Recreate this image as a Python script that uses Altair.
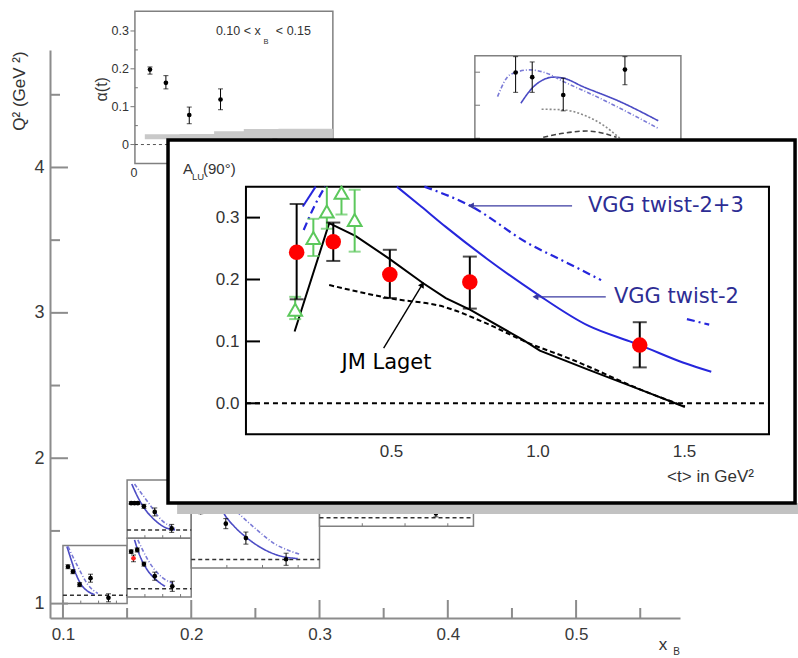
import altair as alt
import pandas as pd

FONT = "Liberation Sans"
ANN_FONT = "DejaVu Sans"

# ================= main inset: A_LU(90 deg) vs <t> =================
clas_t = [0.178, 0.303, 0.496, 0.769, 1.349]
clas_a = [0.244, 0.261, 0.208, 0.196, 0.094]
clas_lo = [0.168, 0.230, 0.170, 0.153, 0.058]
clas_hi = [0.322, 0.292, 0.248, 0.237, 0.131]

hermes_t = [0.173, 0.235, 0.281, 0.331, 0.376]
hermes_a = [0.151, 0.267, 0.310, 0.340, 0.296]
hermes_lo = [0.136, 0.238, 0.282, 0.305, 0.245]
hermes_hi = [0.172, 0.298, 0.362, 0.380, 0.345]

laget_t = [0.171, 0.289, 0.380, 0.496, 0.610, 0.687, 0.771, 0.952, 1.008, 1.175, 1.384, 1.503]
laget_a = [0.116, 0.291, 0.270, 0.233, 0.194, 0.170, 0.151, 0.102, 0.085, 0.054, 0.016, -0.006]

regge_t = [0.289, 0.492, 0.687, 0.826, 0.966, 1.105, 1.384, 1.503]
regge_a = [0.191, 0.170, 0.155, 0.129, 0.098, 0.073, 0.016, -0.005]

vgg2_seg = [0, 0, 1, 1, 1, 1, 1, 1, 1, 1, 1, 1]
vgg2_t = [0.199, 0.243, 0.520, 0.603, 0.687, 0.826, 0.994, 1.175, 1.315, 1.349, 1.496, 1.593]
vgg2_a = [0.318, 0.350, 0.350, 0.318, 0.285, 0.234, 0.178, 0.125, 0.100, 0.094, 0.066, 0.051]

vgg23_seg = [0, 0, 0, 1, 1, 1, 1, 1, 2, 2]
vgg23_t = [0.202, 0.238, 0.275, 0.614, 0.771, 0.966, 1.105, 1.217, 1.510, 1.586]
vgg23_a = [0.280, 0.318, 0.350, 0.350, 0.319, 0.259, 0.226, 0.199, 0.136, 0.127]

ann_text = ["VGG twist-2+3", "VGG twist-2", "JM Laget"]
ann_t = [1.172, 1.261, 0.331]
ann_a = [0.318, 0.172, 0.065]
ann_color = ["#2d2d94", "#2d2d94", "#000000"]

arrow_t0 = [1.118, 1.233, 0.475]
arrow_a0 = [0.319, 0.172, 0.089]
arrow_t1 = [0.773, 0.993, 0.607]
arrow_a1 = [0.319, 0.172, 0.192]
arrow_color = ["#3a3aa0", "#3a3aa0", "#000000"]
arrow_angle = [270, 270, 31]

in_ticks = [0.0, 0.1, 0.2, 0.3]

# inset geometry (in t / A units)
T_DOM = [0.005, 1.79]
A_DOM = [-0.05, 0.35]
box_t = [-0.261, 1.879]
box_a = [-0.161, 0.4254]
shadow_t = [-0.230, 1.889]
shadow_a = [-0.179, -0.161]

# ================= background: Q^2 vs x_B grid =================
xb_major = [0.1, 0.2, 0.3, 0.4, 0.5]
xb_minor = [0.15, 0.25, 0.35, 0.45, 0.55]
q2_major = [1, 2, 3, 4]
q2_minor = [1.5, 2.5, 3.5, 4.5]
XB_DOM = [0.0899, 0.581]
Q2_DOM = [0.901, 4.808]

# small panels: bin box in (x_B, Q^2) and local domain (-t, A)
panel_names = ["alpha", "tr", "A", "Bt", "Bb", "C", "D"]
panel_x0 = [0.1561, 0.4211, 0.10, 0.15, 0.15, 0.20, 0.30]
panel_x1 = [0.3104, 0.5817, 0.15, 0.20, 0.20, 0.30, 0.42]
panel_y0 = [4.0275, 3.860, 1.000, 1.450, 1.045, 1.245, 1.532]
panel_y1 = [5.0743, 4.769, 1.400, 1.850, 1.450, 1.765, 2.110]
panel_u1 = [2.0, 1.8, 1.8, 1.8, 1.8, 1.8, 1.8]
panel_v0 = [-0.05, -0.05, -0.05, -0.05, -0.05, -0.05, -0.05]
panel_v1 = [0.352, 0.35, 0.30, 0.30, 0.30, 0.40, 0.45]

# alpha(t) panel (0.10 < x_B < 0.15)
al_u = [0.152, 0.313, 0.549, 0.865, 1.414]
al_v = [0.198, 0.163, 0.078, 0.119, -0.003]
al_lo = [0.186, 0.147, 0.055, 0.092, -0.020]
al_hi = [0.205, 0.182, 0.099, 0.147, 0.014]
band_u = [0.10, 0.45, 0.80, 1.10, 1.45, 2.0]
band_top = [0.0275, 0.028, 0.035, 0.041, 0.042, 0.042]
band_bot = [0.014, 0.014, 0.014, 0.014, 0.014, 0.014]

# top-right panel
tr_u = [0.356, 0.501, 0.772, 1.311]
tr_v = [0.299, 0.285, 0.231, 0.308]
tr_lo = [0.239, 0.239, 0.183, 0.262]
tr_hi = [0.347, 0.331, 0.282, 0.347]
tr_vgg2_u = [0.402, 0.501, 0.597, 0.684, 0.772, 0.946, 1.267, 1.602]
tr_vgg2_v = [0.206, 0.252, 0.277, 0.285, 0.282, 0.256, 0.211, 0.153]
tr_vgg23_u = [0.198, 0.306, 0.481, 0.627, 0.772, 1.063, 1.602]
tr_vgg23_v = [0.226, 0.292, 0.307, 0.297, 0.272, 0.226, 0.130]
tr_gray_u = [0.583, 0.772, 0.946, 1.121, 1.267]
tr_gray_v = [0.188, 0.186, 0.171, 0.140, 0.100]
tr_bd_u = [0.597, 0.772, 0.976, 1.121, 1.238]
tr_bd_v = [0.103, 0.115, 0.122, 0.115, 0.103]

# panel A
A_u = [0.14, 0.28, 0.467, 0.774, 1.277]
A_v = [0.172, 0.142, 0.064, 0.103, -0.015]
A_e = [0.012, 0.012, 0.012, 0.024, 0.024]
A_vgg2_u = [0.112, 0.235, 0.375, 0.514, 0.699, 0.886]
A_vgg2_v = [0.294, 0.211, 0.123, 0.064, 0.024, 0.005]
A_vgg23_u = [0.14, 0.419, 0.699, 0.978]
A_vgg23_v = [0.294, 0.172, 0.064, 0.011]

# panel B (upper)
Bt_u = [0.114, 0.208, 0.301, 0.472, 0.776, 1.251]
Bt_v = [0.161, 0.161, 0.161, 0.142, 0.108, 0.009]
Bt_e = [0.008, 0.008, 0.008, 0.012, 0.024, 0.024]
Bt_vgg2_u = [0.131, 0.301, 0.492, 0.776, 1.061, 1.345]
Bt_vgg2_v = [0.276, 0.197, 0.128, 0.059, 0.015, 0.0]
Bt_vgg23_u = [0.208, 0.586, 0.967, 1.345]
Bt_vgg23_v = [0.276, 0.167, 0.059, 0.009]

# panel B (lower)
Bb_u = [0.114, 0.179, 0.284, 0.472, 0.776, 1.268]
Bb_v = [0.220, 0.180, 0.230, 0.146, 0.074, 0.014]
Bb_e = [0.010, 0.020, 0.012, 0.012, 0.024, 0.030]
Bb_col = ["black", "#ff2020", "black", "black", "black", "black"]
Bb_vgg2_u = [0.208, 0.350, 0.540, 0.776, 1.061]
Bb_vgg2_v = [0.290, 0.200, 0.120, 0.060, 0.014]
Bb_vgg23_u = [0.301, 0.586, 0.967, 1.297]
Bb_vgg23_v = [0.290, 0.170, 0.070, 0.031]

# panel C
C_u = [0.133, 0.273, 0.485, 0.767, 1.331]
C_v = [0.283, 0.317, 0.214, 0.128, 0.002]
C_e = [0.010, 0.010, 0.030, 0.036, 0.036]
C_vgg2_u = [0.39, 0.461, 0.602, 0.767, 0.978, 1.212, 1.494]
C_vgg2_v = [0.333, 0.273, 0.198, 0.134, 0.071, 0.026, 0.006]
C_vgg23_u = [0.555, 0.696, 0.930, 1.166, 1.401, 1.518]
C_vgg23_v = [0.323, 0.263, 0.174, 0.095, 0.049, 0.032]

# panel D
D_u = [0.195, 1.361]
D_v = [0.057, 0.026]
D_e = [0.012, 0.020]
D_vgg2_u = [1.40, 1.595]
D_vgg2_v = [0.069, 0.041]

# ================= helpers =================
def place(panel, u, v):
    i = panel_names.index(panel)
    X = [panel_x0[i] + uu / panel_u1[i] * (panel_x1[i] - panel_x0[i]) for uu in u]
    Y = [panel_y0[i] + (vv - panel_v0[i]) / (panel_v1[i] - panel_v0[i]) * (panel_y1[i] - panel_y0[i]) for vv in v]
    return X, Y

bgx = alt.Scale(domain=XB_DOM, nice=False, zero=False)
bgy = alt.Scale(domain=Q2_DOM, nice=False, zero=False)
bg_xaxis = alt.Axis(orient="bottom", values=xb_major, format=".1f", ticks=False, tickSize=0,
                    domainColor="#8c8c8c", domainWidth=2, labelFontSize=17, labelColor="#3a3a3a",
                    labelFont=FONT, labelPadding=8, grid=False, title=None, labelFlush=False)
bg_yaxis = alt.Axis(orient="left", values=q2_major, format="d", ticks=False, tickSize=0,
                    domainColor="#8c8c8c", domainWidth=2, labelFontSize=18, labelColor="#3a3a3a",
                    labelFont=FONT, labelPadding=6, grid=False, title=None, labelFlush=False)

def BX(f):
    return alt.X(f, type="quantitative", scale=bgx, axis=bg_xaxis)

def BY(f):
    return alt.Y(f, type="quantitative", scale=bgy, axis=bg_yaxis)

in_xs = alt.Scale(domain=T_DOM, range=[195.96, 718.97], nice=False, zero=False)
in_ys = alt.Scale(domain=A_DOM, range=[384.25, 136.65], nice=False, zero=False)
in_xaxis = alt.Axis(orient="bottom", offset=-183.75, values=[0.5, 1.0, 1.5], format=".1f",
                    domain=False, ticks=False, tickSize=0, labelPadding=9, labelFontSize=17,
                    labelColor="#333333", labelFont=FONT, grid=False, title=None, zindex=1)
in_yaxis = alt.Axis(orient="left", offset=-195.96, values=in_ticks, format=".1f",
                    domain=False, ticks=False, tickSize=0, labelPadding=7, labelFontSize=17,
                    labelColor="#333333", labelFont=FONT, grid=False, title=None, zindex=1)

def IX(f):
    return alt.X(f, type="quantitative", scale=in_xs, axis=in_xaxis)

def IY(f):
    return alt.Y(f, type="quantitative", scale=in_ys, axis=in_yaxis)

# ================= background tables =================
fr = pd.DataFrame({"x0": panel_x0, "x1": panel_x1, "y0": panel_y0, "y1": panel_y1})
zero_rows = []
for i, p in enumerate(panel_names):
    X, Y = place(p, [0, panel_u1[i]], [0, 0])
    zero_rows.append({"X0": X[0], "X1": X[1], "Y": Y[0], "alpha": p == "alpha"})
zr = pd.DataFrame(zero_rows)

curve_defs = [
    ("tr", "vgg2", tr_vgg2_u, tr_vgg2_v), ("tr", "vgg23", tr_vgg23_u, tr_vgg23_v),
    ("tr", "gray", tr_gray_u, tr_gray_v), ("tr", "bdash", tr_bd_u, tr_bd_v),
    ("A", "vgg2", A_vgg2_u, A_vgg2_v), ("A", "vgg23", A_vgg23_u, A_vgg23_v),
    ("Bt", "vgg2", Bt_vgg2_u, Bt_vgg2_v), ("Bt", "vgg23", Bt_vgg23_u, Bt_vgg23_v),
    ("Bb", "vgg2", Bb_vgg2_u, Bb_vgg2_v), ("Bb", "vgg23", Bb_vgg23_u, Bb_vgg23_v),
    ("C", "vgg2", C_vgg2_u, C_vgg2_v), ("C", "vgg23", C_vgg23_u, C_vgg23_v),
    ("D", "vgg2", D_vgg2_u, D_vgg2_v),
]
crow = []
for k, (p, st, u, v) in enumerate(curve_defs):
    X, Y = place(p, u, v)
    for j in range(len(u)):
        crow.append({"key": k, "style": st, "i": j, "X": X[j], "Y": Y[j]})
cr = pd.DataFrame(crow)

pt_defs = [
    ("alpha", al_u, al_v, al_lo, al_hi, ["black"] * 5),
    ("tr", tr_u, tr_v, tr_lo, tr_hi, ["black"] * 4),
    ("A", A_u, A_v, [a - e for a, e in zip(A_v, A_e)], [a + e for a, e in zip(A_v, A_e)], ["black"] * 5),
    ("Bt", Bt_u, Bt_v, [a - e for a, e in zip(Bt_v, Bt_e)], [a + e for a, e in zip(Bt_v, Bt_e)], ["black"] * 6),
    ("Bb", Bb_u, Bb_v, [a - e for a, e in zip(Bb_v, Bb_e)], [a + e for a, e in zip(Bb_v, Bb_e)], Bb_col),
    ("C", C_u, C_v, [a - e for a, e in zip(C_v, C_e)], [a + e for a, e in zip(C_v, C_e)], ["black"] * 5),
    ("D", D_u, D_v, [a - e for a, e in zip(D_v, D_e)], [a + e for a, e in zip(D_v, D_e)], ["black"] * 2),
]
prow = []
for p, u, v, lo, hi, col in pt_defs:
    X, Y = place(p, u, v)
    _, YL = place(p, u, lo)
    _, YH = place(p, u, hi)
    for j in range(len(u)):
        prow.append({"X": X[j], "Y": Y[j], "YL": YL[j], "YH": YH[j], "col": col[j]})
pr = pd.DataFrame(prow)
caps = pd.concat([pr[["X", "YL"]].rename(columns={"YL": "Yc"}), pr[["X", "YH"]].rename(columns={"YH": "Yc"})])

bX, bT = place("alpha", band_u, band_top)
_, bB = place("alpha", band_u, band_bot)
band = pd.DataFrame({"X": bX, "YT": bT, "YB": bB})

trow = []
for v in [0.0, 0.1, 0.2, 0.3]:
    X, Y = place("alpha", [-0.045, 0.0], [v, v])
    trow.append({"X0": X[0], "X1": X[1], "Y": Y[0]})
for v in [0.05, 0.15, 0.25]:
    X, Y = place("alpha", [0.0, 0.03], [v, v])
    trow.append({"X0": X[0], "X1": X[1], "Y": Y[0]})
for v in [0.1, 0.2, 0.3]:
    X, Y = place("tr", [0.0, 0.045], [v, v])
    trow.append({"X0": X[0], "X1": X[1], "Y": Y[0]})
ptk = pd.DataFrame(trow)
vrow = []
for p in ["A", "Bt", "Bb", "C", "D"]:
    for u in [0.5, 1.0, 1.5]:
        X, Y = place(p, [u, u], [-0.05, -0.032])
        vrow.append({"X": X[0], "Y0": Y[0], "Y1": Y[1]})
vtk = pd.DataFrame(vrow)

axrow = []
for xb in xb_major:
    axrow.append({"X0": xb, "X1": xb, "Y0": Q2_DOM[0], "Y1": Q2_DOM[0] + 0.124})
for xb in xb_minor:
    axrow.append({"X0": xb, "X1": xb, "Y0": Q2_DOM[0], "Y1": Q2_DOM[0] + 0.069})
for q in q2_major:
    axrow.append({"X0": XB_DOM[0], "X1": XB_DOM[0] + 0.014, "Y0": q, "Y1": q})
for q in q2_minor:
    axrow.append({"X0": XB_DOM[0], "X1": XB_DOM[0] + 0.0078, "Y0": q, "Y1": q})
axt = pd.DataFrame(axrow)

txt = []
for v, s in zip([0.3, 0.2, 0.1, 0.0], ["0.3", "0.2", "0.1", "0"]):
    X, Y = place("alpha", [-0.06], [v])
    txt.append({"X": X[0], "Y": Y[0], "text": s, "fs": 12.5, "ang": 0, "al": "right"})
X, Y = place("alpha", [-0.33], [0.146])
txt.append({"X": X[0], "Y": Y[0], "text": "\u03b1(t)", "fs": 16, "ang": 270, "al": "center"})
X, Y = place("alpha", [0.818, 1.30, 1.424], [0.300, 0.272, 0.300])
txt.append({"X": X[0], "Y": Y[0], "text": "0.10 < x", "fs": 12.5, "ang": 0, "al": "left"})
txt.append({"X": X[1], "Y": Y[1], "text": "B", "fs": 7.5, "ang": 0, "al": "left"})
txt.append({"X": X[2], "Y": Y[2], "text": "< 0.15", "fs": 12.5, "ang": 0, "al": "left"})
X, Y = place("alpha", [-0.01], [-0.074])
txt.append({"X": X[0], "Y": Y[0], "text": "0", "fs": 12.5, "ang": 0, "al": "center"})
txt.append({"X": 0.0665, "Y": 4.526, "text": "Q\u00b2 (GeV \u00b2)", "fs": 17, "ang": 270, "al": "center"})
txt.append({"X": 0.5677, "Y": 0.713, "text": "x", "fs": 17, "ang": 0, "al": "center"})
txt.append({"X": 0.5783, "Y": 0.667, "text": "B", "fs": 10, "ang": 0, "al": "center"})
tx = pd.DataFrame(txt)

# ================= background layers =================
styles = ["vgg2", "vgg23", "gray", "bdash"]
style_col = ["#4b4bc4", "#7a7ad6", "#8a8a8a", "#444444"]
style_dash = [[1, 0], [4, 2, 1, 2], [2, 2], [5, 3]]

bg_layers = [
    alt.Chart(fr).mark_rect(fill="white", stroke="#808080", strokeWidth=1.5).encode(
        x=BX("x0"), x2="x1", y=BY("y0"), y2="y1"),
    alt.Chart(band).mark_area(color="#c9c9c9", interpolate="step-after").encode(
        x=BX("X"), y=BY("YB"), y2="YT"),
    alt.Chart(zr[~zr["alpha"]]).mark_rule(color="#333333", strokeWidth=1.5, strokeDash=[4, 3]).encode(
        x=BX("X0"), x2="X1", y=BY("Y")),
    alt.Chart(zr[zr["alpha"]]).mark_rule(color="#555555", strokeWidth=1, strokeDash=[3, 3]).encode(
        x=BX("X0"), x2="X1", y=BY("Y")),
    alt.Chart(ptk).mark_rule(color="#777777", strokeWidth=1).encode(x=BX("X0"), x2="X1", y=BY("Y")),
    alt.Chart(vtk).mark_rule(color="#777777", strokeWidth=1).encode(x=BX("X"), y=BY("Y0"), y2="Y1"),
    alt.Chart(cr).mark_line(strokeWidth=1.6, interpolate="monotone").encode(
        x=BX("X"), y=BY("Y"), detail="key:N", order="i:Q",
        color=alt.Color("style:N", scale=alt.Scale(domain=styles, range=style_col), legend=None),
        strokeDash=alt.StrokeDash("style:N", scale=alt.Scale(domain=styles, range=style_dash), legend=None)),
    alt.Chart(pr).mark_rule(color="black", strokeWidth=1).encode(x=BX("X"), y=BY("YL"), y2="YH"),
    alt.Chart(caps).mark_tick(orient="horizontal", color="black", size=5, thickness=1).encode(
        x=BX("X"), y=BY("Yc")),
    alt.Chart(pr).mark_point(filled=True, size=22, opacity=1).encode(
        x=BX("X"), y=BY("Y"), color=alt.Color("col:N", scale=None)),
    alt.Chart(axt).mark_rule(color="#8c8c8c", strokeWidth=2).encode(
        x=BX("X0"), x2="X1", y=BY("Y0"), y2="Y1"),
]
for al in ["left", "right", "center"]:
    sub = tx[tx["al"] == al]
    bg_layers.append(
        alt.Chart(sub).mark_text(align=al, baseline="middle", font=FONT, color="#333333").encode(
            x=BX("X"), y=BY("Y"), text="text:N",
            size=alt.Size("fs:Q", scale=None), angle=alt.Angle("ang:Q", scale=None)))
bg = alt.layer(*bg_layers)

# ================= inset tables =================
shadow_df = pd.DataFrame({"t0": [shadow_t[0]], "t1": [shadow_t[1]], "a0": [shadow_a[0]], "a1": [shadow_a[1]]})
box_df = pd.DataFrame({"t0": [box_t[0]], "t1": [box_t[1]], "a0": [box_a[0]], "a1": [box_a[1]]})
frame_df = pd.DataFrame({"t0": [T_DOM[0]], "t1": [T_DOM[1]], "a0": [A_DOM[0]], "a1": [A_DOM[1]]})
zero_df = pd.DataFrame({"t0": [T_DOM[0]], "t1": [T_DOM[1]], "a": [0.0]})
itick_df = pd.DataFrame({"t0": [T_DOM[0]] * 4, "t1": [T_DOM[0] + 0.048] * 4, "a": in_ticks})

laget_df = pd.DataFrame({"t": laget_t, "a": laget_a, "i": range(len(laget_t))})
regge_df = pd.DataFrame({"t": regge_t, "a": regge_a, "i": range(len(regge_t))})
vgg2_df = pd.DataFrame({"t": vgg2_t, "a": vgg2_a, "seg": vgg2_seg, "i": range(len(vgg2_t))})
vgg23_df = pd.DataFrame({"t": vgg23_t, "a": vgg23_a, "seg": vgg23_seg, "i": range(len(vgg23_t))})

g_df = pd.DataFrame({"t": hermes_t, "a": hermes_a, "lo": hermes_lo,
                     "hi": [min(h, A_DOM[1]) for h in hermes_hi]})
g_caps = pd.DataFrame({"t": hermes_t + [t for t, h in zip(hermes_t, hermes_hi) if h <= A_DOM[1]],
                       "c": hermes_lo + [h for h in hermes_hi if h <= A_DOM[1]]})
r_df = pd.DataFrame({"t": clas_t, "a": clas_a, "lo": clas_lo, "hi": clas_hi})
r_caps = pd.DataFrame({"t": clas_t + clas_t, "c": clas_lo + clas_hi})

ann_df = pd.DataFrame({"t": ann_t, "a": ann_a, "text": ann_text, "c": ann_color})
arr_df = pd.DataFrame({"t0": arrow_t0, "a0": arrow_a0, "t1": arrow_t1, "a1": arrow_a1,
                       "c": arrow_color, "ang": arrow_angle})

lab_df = pd.DataFrame({"t": [-0.2099, -0.179, -0.1416], "a": [0.3785, 0.366, 0.3785],
                       "text": ["A", "LU", "(90\u00b0)"], "fs": [15, 9.5, 15]})
xlab_df = pd.DataFrame({"t": [1.739], "a": [-0.119], "text": ["<t> in GeV\u00b2"]})

GREEN = "#5cc85c"
inset_layers = [
    alt.Chart(shadow_df).mark_rect(color="#c2c2c2").encode(x=IX("t0"), x2="t1", y=IY("a0"), y2="a1"),
    alt.Chart(box_df).mark_rect(fill="white", stroke="black", strokeWidth=3.5).encode(
        x=IX("t0"), x2="t1", y=IY("a0"), y2="a1"),
    alt.Chart(frame_df).mark_rect(fill="white", fillOpacity=0, stroke="black", strokeWidth=2).encode(
        x=IX("t0"), x2="t1", y=IY("a0"), y2="a1"),
    alt.Chart(zero_df).mark_rule(color="black", strokeWidth=2, strokeDash=[5, 4]).encode(
        x=IX("t0"), x2="t1", y=IY("a")),
    alt.Chart(itick_df).mark_rule(color="black", strokeWidth=2).encode(x=IX("t0"), x2="t1", y=IY("a")),
    alt.Chart(regge_df).mark_line(color="black", strokeWidth=2, strokeDash=[5, 3],
                                  interpolate="monotone").encode(x=IX("t"), y=IY("a"), order="i:Q"),
    alt.Chart(laget_df).mark_line(color="black", strokeWidth=2).encode(x=IX("t"), y=IY("a"), order="i:Q"),
    alt.Chart(vgg2_df).mark_line(color="#2626dc", strokeWidth=2, interpolate="monotone").encode(
        x=IX("t"), y=IY("a"), detail="seg:N", order="i:Q"),
    alt.Chart(vgg23_df).mark_line(color="#2626dc", strokeWidth=2.2, strokeDash=[8, 4, 2, 4],
                                  interpolate="monotone").encode(
        x=IX("t"), y=IY("a"), detail="seg:N", order="i:Q"),
    alt.Chart(g_df).mark_rule(color=GREEN, strokeWidth=2).encode(x=IX("t"), y=IY("lo"), y2="hi"),
    alt.Chart(g_caps).mark_tick(orient="horizontal", color=GREEN, size=12, thickness=2).encode(
        x=IX("t"), y=IY("c")),
    alt.Chart(g_df).mark_point(shape="triangle-up", filled=True, fill="white", stroke=GREEN,
                               strokeWidth=2, size=190, opacity=1).encode(x=IX("t"), y=IY("a")),
    alt.Chart(r_df).mark_rule(color="black", strokeWidth=2).encode(x=IX("t"), y=IY("lo"), y2="hi"),
    alt.Chart(r_caps).mark_tick(orient="horizontal", color="black", size=14, thickness=2).encode(
        x=IX("t"), y=IY("c")),
    alt.Chart(r_df).mark_circle(color="#ff0000", size=240, opacity=1).encode(x=IX("t"), y=IY("a")),
    alt.Chart(arr_df).mark_rule(strokeWidth=1.4).encode(
        x=IX("t0"), x2="t1", y=IY("a0"), y2="a1", color=alt.Color("c:N", scale=None)),
    alt.Chart(arr_df).mark_point(shape="triangle-up", filled=True, size=45, opacity=1).encode(
        x=IX("t1"), y=IY("a1"), color=alt.Color("c:N", scale=None), angle=alt.Angle("ang:Q", scale=None)),
    alt.Chart(ann_df).mark_text(align="left", baseline="middle", font=ANN_FONT, fontSize=21).encode(
        x=IX("t"), y=IY("a"), text="text:N", color=alt.Color("c:N", scale=None)),
    alt.Chart(lab_df).mark_text(align="left", baseline="middle", font=FONT, color="#333333").encode(
        x=IX("t"), y=IY("a"), text="text:N", size=alt.Size("fs:Q", scale=None)),
    alt.Chart(xlab_df).mark_text(align="right", baseline="middle", font=FONT, fontSize=17,
                                 color="#333333").encode(x=IX("t"), y=IY("a"), text="text:N"),
]
inset = alt.layer(*inset_layers)

chart = alt.layer(bg, inset).resolve_scale(x="independent", y="independent").properties(
    width=630, height=568,
    padding={"left": 50, "top": 50, "right": 118, "bottom": 40},
    autosize=alt.AutoSizeParams(type="none"),
    background="white",
).configure_view(strokeWidth=0)

chart.save("out.html", embed_options={"renderer": "svg", "actions": False})
